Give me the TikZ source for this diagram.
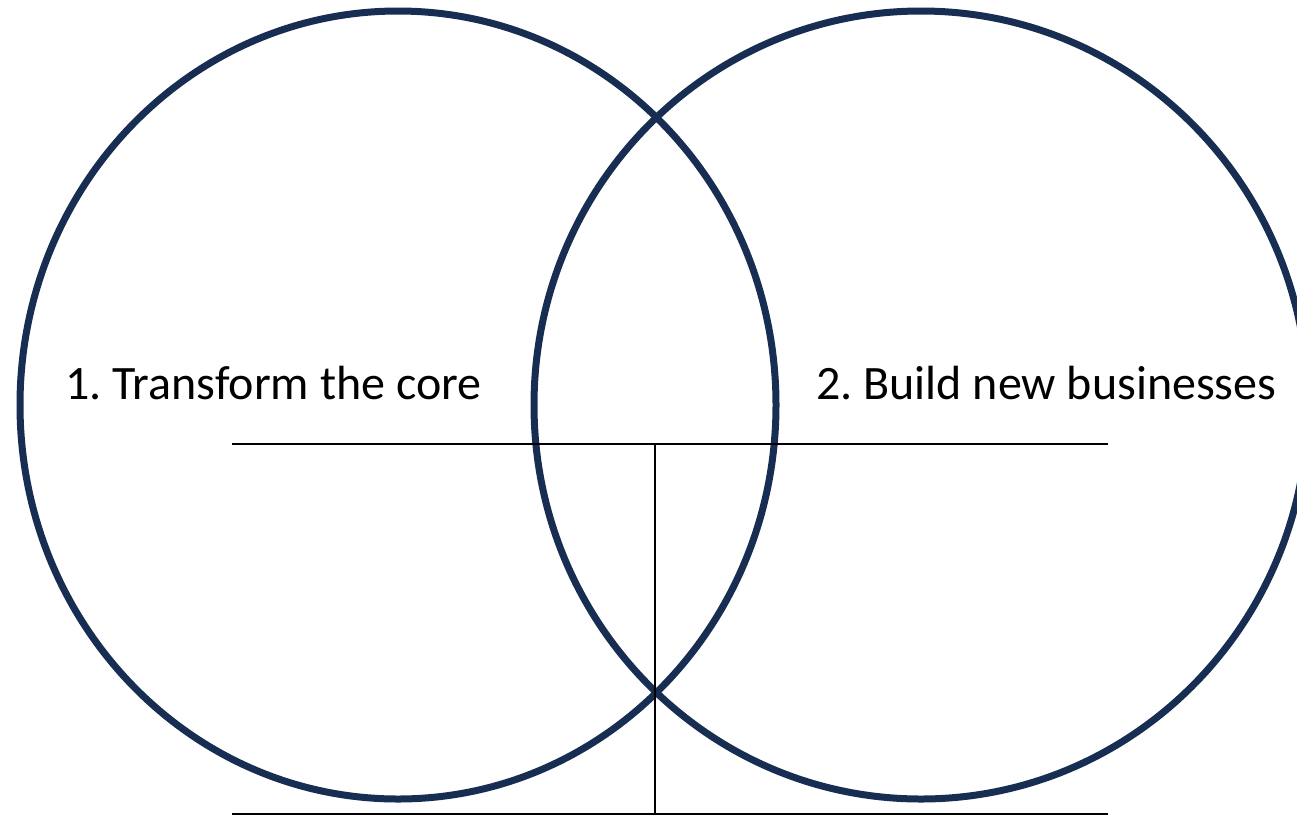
\documentclass[tikz,border=0pt]{standalone}
\usepackage{fontspec}
\setmainfont{Carlito}
\frenchspacing
\definecolor{navy}{RGB}{24,45,82}
\tikzset{
  ring/.style={draw=navy, line width=7pt},
  rule/.style={draw=black, line width=1.8pt},
  label/.style={font=\fontsize{48}{56}\selectfont, inner sep=0pt, anchor=base west}
}
\begin{document}
\begin{tikzpicture}[x=1pt,y=-1pt]
\useasboundingbox (0,0) rectangle (1297,815);
\draw[ring] (398,405) ellipse [x radius=378, y radius=394];
\draw[ring] (921,405) ellipse [x radius=387, y radius=394];
\coordinate (hl) at (232,444);
\coordinate (hr) at (1108,444);
\coordinate (hm) at (655,444);
\coordinate (vb) at (655,815);
\coordinate (bl) at (232,814);
\coordinate (br) at (1108,814);
\draw[rule] (hl) -- (hr);
\draw[rule] (hm) -- (vb);
\draw[rule] (bl) -- (br);
\node[label] (t1) at (65,399) {1. Transform the core};
\node[label] (t2) at (816,399) {2. Build new businesses};
\end{tikzpicture}
\end{document}
